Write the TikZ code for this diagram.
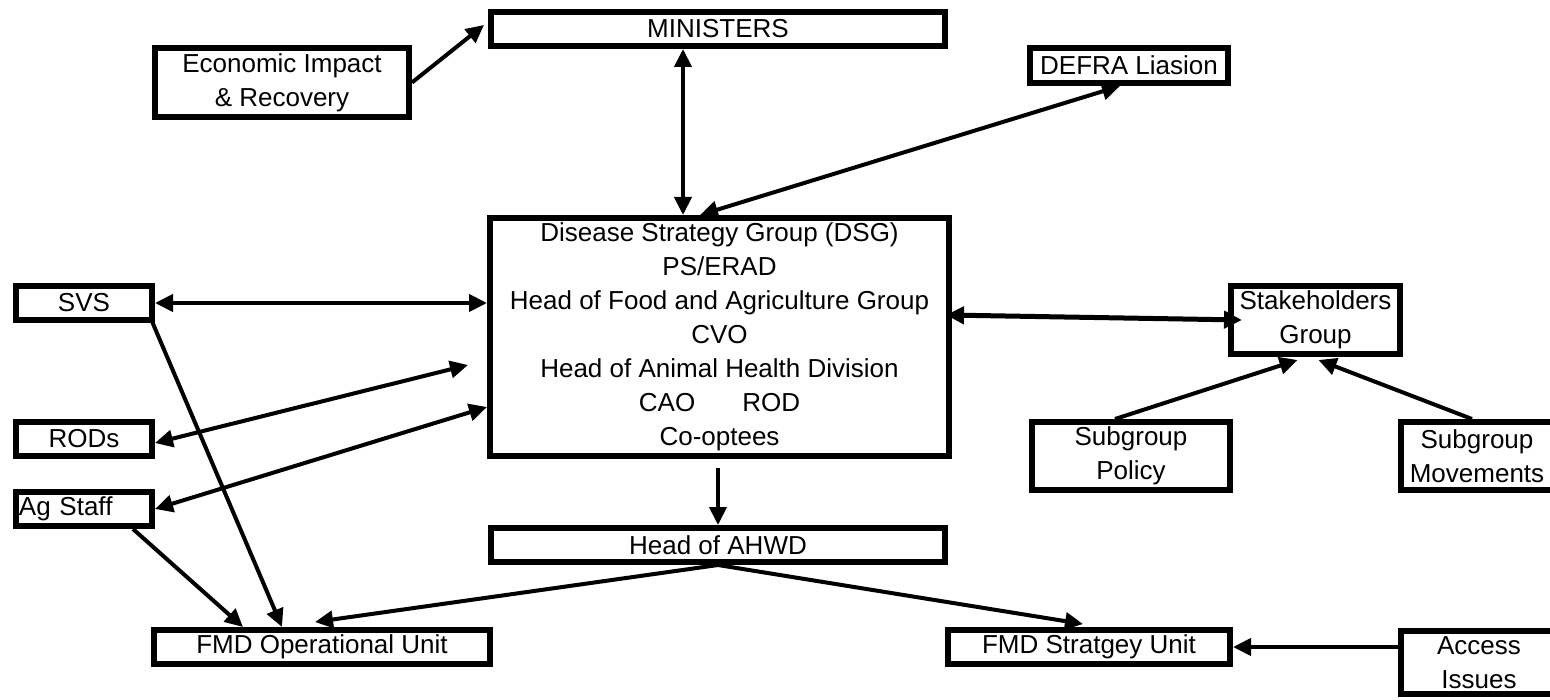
\documentclass[tikz,border=0pt]{standalone}
\usepackage{fontspec}
\setmainfont{Liberation Sans}
\usetikzlibrary{arrows.meta,calc}
\tikzset{
  box/.style={draw, line width=6pt, inner sep=0pt, align=center,
    font=\fontsize{26}{34}\selectfont},
  tipa/.tip={Triangle[length=18pt,width=17pt]},
  conn/.style={line width=4pt, -tipa},
  dconn/.style={line width=4pt, tipa-tipa},
}
\begin{document}
\begin{tikzpicture}[x=1pt,y=-1pt]
\fill[white] (0,0) rectangle (1550,700);
\useasboundingbox (0,0) rectangle (1550,700);
\clip (0,0) rectangle (1550,700);

% boxes
\node[box, minimum width=454pt, minimum height=34pt] (min) at (718,29) {MINISTERS};
\node[box, minimum width=254pt, minimum height=69pt] (econ) at (282,82.5) {Economic Impact\\\& Recovery};
\node[box, minimum width=198pt, minimum height=35pt] (defra) at (1129,65.5) {DEFRA Liasion};
\node[box, minimum width=459pt, minimum height=238pt] (dsg) at (719.5,337)
  {Disease Strategy Group (DSG)\\PS/ERAD\\Head of Food and Agriculture Group\\CVO\\Head of Animal Health Division\\CAO\hspace{47pt}ROD\\Co-optees};
\node[box, minimum width=136pt, minimum height=34pt] (svs) at (84,303) {SVS};
\node[box, minimum width=136pt, minimum height=34pt] (rods) at (84,439) {RODs};
\node[box, minimum width=136pt, minimum height=34pt, text width=130pt, align=left] (ag) at (84,509) {Ag Staff};
\node[box, minimum width=454pt, minimum height=34pt] (ahwd) at (718,545) {Head of AHWD};
\node[box, minimum width=336pt, minimum height=34pt] (fmdop) at (322,647) {FMD Operational Unit};
\node[box, minimum width=282pt, minimum height=34pt] (strat) at (1089,647) {FMD Stratgey Unit};
\node[box, minimum width=156pt, minimum height=63pt] (access) at (1479,662.5) {Access\\Issues};
\node[box, minimum width=169pt, minimum height=68pt] (stake) at (1315.5,320) {Stakeholders\\Group};
\node[box, minimum width=198pt, minimum height=68pt] (policy) at (1131,456) {Subgroup\\Policy};
\node[box, minimum width=152pt, minimum height=68pt] (move) at (1477,456) {Subgroup\\Movements};
\coordinate (rodsend) at (468,365);

% connectors
\draw[conn] (econ.east) -- ($(min.west)+(-4,-4)$);
\draw[dconn] ($(min.south)+(-35,0)$) -- ($(dsg.north)+(-36.5,0)$);
\draw[dconn] ($(dsg.north)+(-19.5,0)$) -- ($(defra.south)+(-9,0)$);
\draw[dconn] (svs.east) -- ($(dsg.west)+(0,-34)$);
\draw[dconn] ($(rods.east)+(0,4)$) -- (rodsend);
\draw[dconn] (ag.east) -- ($(dsg.west)+(0,70)$);
\draw[conn] ($(svs.south east)+(-4,-4)$) -- ($(fmdop.north)+(-40,0)$);
\draw[conn] ($(ag.south)+(49,0)$) -- ($(fmdop.north)+(-79,0)$);
\draw[conn] ($(dsg.south)+(-1.5,9)$) -- (ahwd.north);
\draw[conn] (ahwd.south) -- ($(fmdop.north)+(-7,-5)$);
\draw[conn] (ahwd.south) -- ($(strat.north)+(-6,-3)$);
\draw[conn] ($(access.west)+(0,-15.5)$) -- (strat.east);
\draw[dconn, line width=5pt] ($(dsg.east)+(-6,-22)$) -- ($(stake.west)+(14,0)$);
\draw[conn] ($(policy.north)+(-16,0)$) -- ($(stake.south)+(-18,3)$);
\draw[conn] ($(move.north)+(-5,0)$) -- ($(stake.south)+(3,3)$);
\end{tikzpicture}
\end{document}
